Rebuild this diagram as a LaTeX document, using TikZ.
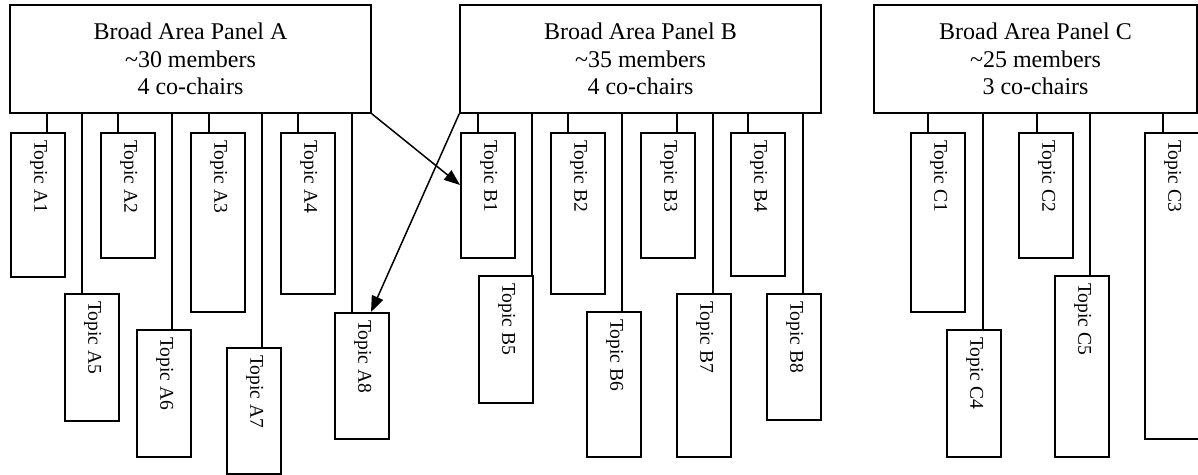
\documentclass[tikz,border=0pt]{standalone}
\usepackage{fontspec}
\setmainfont{Liberation Serif}
\usetikzlibrary{arrows.meta}
\tikzset{
  panel/.style={draw, line width=1.5pt, rectangle, align=center, inner sep=0pt,
    font=\fontsize{24}{27.3}\selectfont},
  topic/.style={draw, line width=1.5pt, rectangle, minimum width=54pt, inner sep=0pt},
  tlabel/.style={rotate=-90, anchor=west, inner sep=0pt, font=\fontsize{19.5}{22}\selectfont},
  conn/.style={line width=1.5pt},
  arr/.style={line width=1.5pt, -{Triangle[length=16pt,width=12pt]}}
}
\newcommand\tbox[7]{%
  \node[topic, minimum height={#4-#3}, anchor=north west] (#1) at (#2,#3) {};
  \node[tlabel] (#1l) at ([yshift=-8pt,xshift=1pt]#1.north) {#5};
  \draw[conn] (#6,0 |- #7.south) -- (#6,0 |- #1.north);
}
\begin{document}
\begin{tikzpicture}[x=1pt,y=-1pt]
\useasboundingbox (0,0) rectangle (1198,474);
\clip (0,0) rectangle (1198,474);
% panels
\node[panel, minimum width=361pt, minimum height=108pt] (pa) at (190.5,59)
  {Broad Area Panel A\\\textasciitilde30 members\\4 co-chairs};
\node[panel, minimum width=361pt, minimum height=108pt] (pb) at (640.5,59)
  {Broad Area Panel B\\\textasciitilde35 members\\4 co-chairs};
\node[panel, minimum width=323pt, minimum height=108pt] (pc) at (1035.5,59)
  {Broad Area Panel C\\\textasciitilde25 members\\3 co-chairs};
% panel A topics
\tbox{a1}{10}{132}{276}{Topic A1}{47}{pa}
\tbox{a2}{100}{132}{257}{Topic A2}{118}{pa}
\tbox{a3}{190}{132}{311}{Topic A3}{209}{pa}
\tbox{a4}{280}{132}{293}{Topic A4}{298}{pa}
\tbox{a5}{64}{293}{420}{Topic A5}{82}{pa}
\tbox{a6}{136}{329}{456}{Topic A6}{172}{pa}
\tbox{a7}{226}{347}{473}{Topic A7}{262}{pa}
\tbox{a8}{334}{312}{438}{Topic A8}{352}{pa}
% panel B topics
\tbox{b1}{460}{132}{257}{Topic B1}{478}{pb}
\tbox{b2}{550}{132}{293}{Topic B2}{568}{pb}
\tbox{b3}{640}{132}{257}{Topic B3}{677}{pb}
\tbox{b4}{730}{132}{275}{Topic B4}{748}{pb}
\tbox{b5}{478}{275}{402}{Topic B5}{532}{pb}
\tbox{b6}{586}{311}{456}{Topic B6}{622}{pb}
\tbox{b7}{676}{293}{456}{Topic B7}{713}{pb}
\tbox{b8}{766}{293}{419}{Topic B8}{803}{pb}
% panel C topics
\tbox{c1}{910}{132}{311}{Topic C1}{928}{pc}
\tbox{c2}{1018}{132}{257}{Topic C2}{1037}{pc}
\tbox{c3}{1144}{132}{438}{Topic C3}{1163}{pc}
\tbox{c4}{946}{329}{456}{Topic C4}{983}{pc}
\tbox{c5}{1054}{275}{456}{Topic C5}{1090}{pc}
% cross arrows
\draw[arr] (pa.south east) -- (b1.west |- 0,185);
\draw[arr] (pb.south west) -- (371,0 |- a8.north);
\end{tikzpicture}
\end{document}
